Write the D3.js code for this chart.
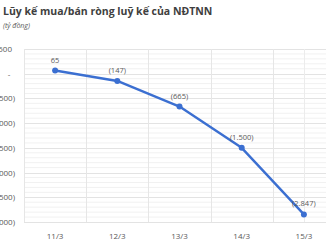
<!DOCTYPE html>
<html>
<head>
<meta charset="utf-8">
<script src="https://cdn.jsdelivr.net/npm/d3@7"></script>
<style>
  body { margin: 0; background: #fff; }
  text { font-family: "Open Sans", sans-serif; fill: #595959; }
</style>
</head>
<body>
<svg id="chart" width="326" height="245"></svg>
<script>
// dữ liệu
const days = ["11/3", "12/3", "13/3", "14/3", "15/3"];
const values = [65, -147, -665, -1500, -2847];
const labels = ["65", "(147)", "(665)", "(1.500)", "(2.847)"];
const yTicks = [500, 0, -500, -1000, -1500, -2000, -2500, -3000];
const yTickLabels = ["500", "-", "(500)", "(1.000)", "(1.500)", "(2.000)", "(2.500)", "(3.000)"];

var svg = d3.select("#chart"),
    plotLeft = 24, plotRight = 335, plotTop = 49, plotBottom = 222;

var x = d3.scaleBand().domain(days).range([plotLeft, plotRight]).padding(0);
var y = d3.scaleLinear().domain([-3000, 500]).range([plotBottom, plotTop]);

// minor grid every 100
var minor = d3.range(-3000, 501, 100).filter(v => v % 500 !== 0);
svg.append("g").selectAll("line").data(minor).enter().append("line")
  .attr("x1", plotLeft).attr("x2", 326)
  .attr("y1", d => y(d)).attr("y2", d => y(d))
  .attr("stroke", "#f1f1f1").attr("stroke-width", 1);

// major grid
svg.append("g").selectAll("line").data(yTicks).enter().append("line")
  .attr("x1", plotLeft).attr("x2", 326)
  .attr("y1", d => Math.round(y(d)) + 0.5).attr("y2", d => Math.round(y(d)) + 0.5)
  .attr("stroke", "#e3e3e3").attr("stroke-width", 1);

// vertical grid
svg.append("g").selectAll("line").data(days).enter().append("line")
  .attr("x1", d => Math.round(x(d)) + 0.5).attr("x2", d => Math.round(x(d)) + 0.5)
  .attr("y1", plotTop).attr("y2", plotBottom)
  .attr("stroke", "#e6e6e6");
svg.append("line")
  .attr("x1", Math.round(x("15/3") + x.bandwidth() / 2) + 0.5)
  .attr("x2", Math.round(x("15/3") + x.bandwidth() / 2) + 0.5)
  .attr("y1", plotTop).attr("y2", plotBottom)
  .attr("stroke", "#ececec");

// y labels
svg.append("g").selectAll("text").data(yTicks).enter().append("text")
  .attr("x", d => d === 0 ? 9 : (d > 0 ? 12 : 15))
  .attr("y", d => y(d) + 3)
  .attr("text-anchor", d => d === 0 ? "middle" : "end")
  .style("font-size", "8px")
  .text((d, i) => yTickLabels[i]);

// x labels
svg.append("g").selectAll("text").data(days).enter().append("text")
  .attr("x", d => x(d) + x.bandwidth() / 2)
  .attr("y", 239)
  .attr("text-anchor", "middle")
  .style("font-size", "8px")
  .text(d => d);

// line
var pts = days.map((d, i) => ({ day: d, v: values[i], label: labels[i] }));
var line = d3.line()
  .x(d => x(d.day) + x.bandwidth() / 2)
  .y(d => y(d.v));

svg.append("path")
  .datum(pts)
  .attr("d", line)
  .attr("fill", "none")
  .attr("stroke", "#3b6fd1")
  .attr("stroke-width", 2.4)
  .attr("stroke-linejoin", "round");

svg.append("g").selectAll("circle").data(pts).enter().append("circle")
  .attr("cx", d => x(d.day) + x.bandwidth() / 2)
  .attr("cy", d => y(d.v))
  .attr("r", 3)
  .attr("fill", "#3b6fd1");

svg.append("g").selectAll("text").data(pts).enter().append("text")
  .attr("x", d => x(d.day) + x.bandwidth() / 2)
  .attr("y", d => y(d.v) - 8)
  .attr("text-anchor", "middle")
  .style("font-size", "7.5px")
  .text(d => d.label);

// tiêu đề
svg.append("text")
  .attr("x", 3).attr("y", 15)
  .style("font-size", "10.5px").style("font-weight", "bold")
  .style("fill", "#404040")
  .text("Lũy kế mua/bán ròng luỹ kế của NĐTNN");
svg.append("text")
  .attr("x", 3).attr("y", 28)
  .style("font-size", "7px").style("font-style", "italic")
  .text("(tỷ đồng)");
</script>
</body>
</html>
